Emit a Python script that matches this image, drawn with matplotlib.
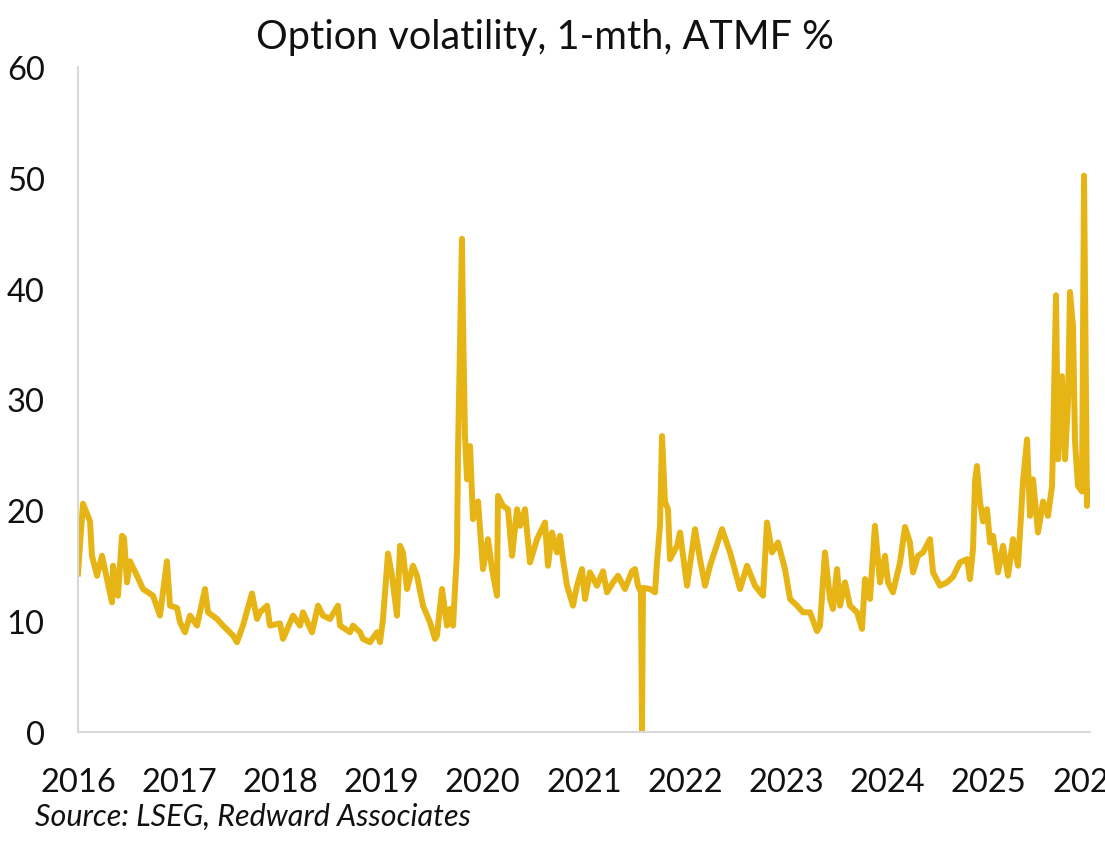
import matplotlib
matplotlib.use("Agg")
import matplotlib.pyplot as plt

# decimal year, 1-mth ATMF option vol (%)
t = [
    2016.000, 2016.049, 2016.119, 2016.138, 2016.188, 2016.237, 2016.287, 2016.336,
    2016.346, 2016.395, 2016.435, 2016.455, 2016.484, 2016.514, 2016.583, 2016.642,
    2016.741, 2016.810, 2016.879, 2016.909, 2016.978, 2017.008, 2017.057, 2017.107,
    2017.176, 2017.255, 2017.285, 2017.374, 2017.433, 2017.532, 2017.571, 2017.630,
    2017.719, 2017.769, 2017.798, 2017.868, 2017.897, 2017.996, 2018.026, 2018.125,
    2018.194, 2018.223, 2018.312, 2018.372, 2018.421, 2018.490, 2018.569, 2018.589,
    2018.688, 2018.717, 2018.787, 2018.816, 2018.885, 2018.955, 2018.984, 2019.014,
    2019.034, 2019.063, 2019.103, 2019.152, 2019.182, 2019.211, 2019.251, 2019.310,
    2019.350, 2019.409, 2019.478, 2019.528, 2019.547, 2019.597, 2019.646, 2019.676,
    2019.706, 2019.745, 2019.755, 2019.794, 2019.804, 2019.824, 2019.844, 2019.874,
    2019.903, 2019.953, 2020.002, 2020.051, 2020.091, 2020.140, 2020.150, 2020.200,
    2020.249, 2020.289, 2020.338, 2020.368, 2020.417, 2020.466, 2020.536, 2020.615,
    2020.644, 2020.684, 2020.733, 2020.763, 2020.792, 2020.832, 2020.891, 2020.931,
    2020.980, 2021.010, 2021.059, 2021.128, 2021.188, 2021.227, 2021.287, 2021.336,
    2021.405, 2021.474, 2021.504, 2021.534, 2021.563, 2021.573, 2021.583, 2021.652,
    2021.702, 2021.721, 2021.751, 2021.771, 2021.800, 2021.830, 2021.850, 2021.919,
    2021.949, 2022.018, 2022.097, 2022.146, 2022.196, 2022.245, 2022.364, 2022.443,
    2022.542, 2022.611, 2022.690, 2022.769, 2022.808, 2022.858, 2022.917, 2022.986,
    2023.036, 2023.105, 2023.164, 2023.233, 2023.302, 2023.332, 2023.381, 2023.431,
    2023.460, 2023.500, 2023.530, 2023.579, 2023.628, 2023.698, 2023.747, 2023.777,
    2023.826, 2023.875, 2023.925, 2023.974, 2024.004, 2024.053, 2024.123, 2024.172,
    2024.221, 2024.251, 2024.300, 2024.350, 2024.419, 2024.449, 2024.518, 2024.587,
    2024.646, 2024.715, 2024.785, 2024.814, 2024.844, 2024.864, 2024.883, 2024.913,
    2024.943, 2024.982, 2025.012, 2025.042, 2025.091, 2025.140, 2025.190, 2025.239,
    2025.289, 2025.338, 2025.378, 2025.407, 2025.437, 2025.486, 2025.536, 2025.585,
    2025.625, 2025.634, 2025.664, 2025.684, 2025.723, 2025.753, 2025.783, 2025.802,
    2025.832, 2025.852, 2025.881, 2025.921, 2025.941, 2025.970, 2026.000,
]
vol = [
    14.3, 20.6, 19.0, 15.9, 14.1, 15.9, 13.8, 11.7,
    15.0, 12.3, 17.7, 17.5, 13.5, 15.4, 14.1, 12.9,
    12.3, 10.5, 15.4, 11.4, 11.2, 9.9, 9.0, 10.5,
    9.6, 12.9, 10.8, 10.2, 9.6, 8.7, 8.1, 9.6,
    12.5, 10.2, 10.8, 11.4, 9.6, 9.8, 8.4, 10.5,
    9.6, 10.8, 9.0, 11.4, 10.5, 10.2, 11.4, 9.6,
    9.0, 9.6, 9.0, 8.4, 8.1, 9.0, 8.1, 10.2,
    12.6, 16.1, 14.1, 10.5, 16.8, 16.2, 12.9, 15.0,
    14.1, 11.4, 9.9, 8.4, 8.7, 12.9, 9.6, 11.1,
    9.6, 16.2, 25.3, 44.5, 37.3, 26.7, 22.8, 25.8,
    19.2, 20.8, 14.7, 17.4, 14.7, 12.3, 21.3, 20.4,
    20.1, 15.9, 20.1, 18.6, 20.1, 15.3, 17.4, 18.9,
    15.0, 18.0, 16.2, 17.7, 15.6, 13.2, 11.4, 13.2,
    14.7, 12.0, 14.4, 13.2, 14.5, 12.6, 13.5, 14.1,
    12.9, 14.5, 14.7, 13.2, 12.6, 0.0, 13.0, 12.9,
    12.6, 15.3, 18.6, 26.7, 20.8, 20.1, 15.6, 16.8,
    18.0, 13.2, 18.3, 15.6, 13.2, 15.0, 18.3, 16.2,
    12.9, 15.0, 13.2, 12.3, 18.9, 16.2, 17.1, 14.7,
    12.0, 11.4, 10.8, 10.8, 9.1, 9.6, 16.2, 12.0,
    11.1, 14.7, 11.4, 13.5, 11.4, 10.8, 9.3, 13.8,
    12.0, 18.6, 13.5, 15.9, 13.5, 12.6, 15.3, 18.5,
    17.1, 14.4, 15.9, 16.2, 17.4, 14.4, 13.2, 13.5,
    14.0, 15.3, 15.6, 13.8, 16.5, 22.6, 24.0, 20.8,
    19.0, 20.1, 17.1, 17.7, 14.4, 16.8, 14.1, 17.4,
    15.0, 22.6, 26.4, 19.5, 22.8, 18.0, 20.8, 19.5,
    22.2, 25.5, 39.4, 24.6, 32.1, 24.6, 29.8, 39.7,
    36.6, 26.2, 22.2, 21.7, 50.2, 20.4, 21.7,
]
years = list(range(2016, 2027))
y_ticks = [0, 10, 20, 30, 40, 50, 60]

plt.rcParams['font.family'] = ['Lato', 'DejaVu Sans']

fig = plt.figure(figsize=(11.05, 8.45), dpi=100)
ax = fig.add_axes([78/1105, 1 - 733/845, (1090 - 78)/1105, (733 - 68)/845])

ax.plot(t, vol, color='#E6B415', lw=4.3, solid_joinstyle='round')

ax.set_xlim(2016, 2026)
ax.set_ylim(0, 60)
ax.set_xticks(years)
ax.set_xticklabels([str(y) for y in years])
ax.set_yticks(y_ticks)
ax.tick_params(axis='both', length=0, labelsize=23.5, colors='#111111')
ax.tick_params(axis='x', pad=25)
ax.tick_params(axis='y', pad=24)

for side in ['top', 'right']:
    ax.spines[side].set_visible(False)
for side in ['left', 'bottom']:
    ax.spines[side].set_color('#D9D9D9')
    ax.spines[side].set_linewidth(1.5)

fig.text(545/1105, 1 - 37/845, 'Option volatility, 1-mth, ATMF %', ha='center', va='center',
         fontsize=28.5, color='#111111')
fig.text(35/1105, 1 - 817/845, 'Source: LSEG, Redward Associates', ha='left', va='center',
         fontsize=22, style='italic', color='#111111')

fig.savefig('out.png', dpi=100)
